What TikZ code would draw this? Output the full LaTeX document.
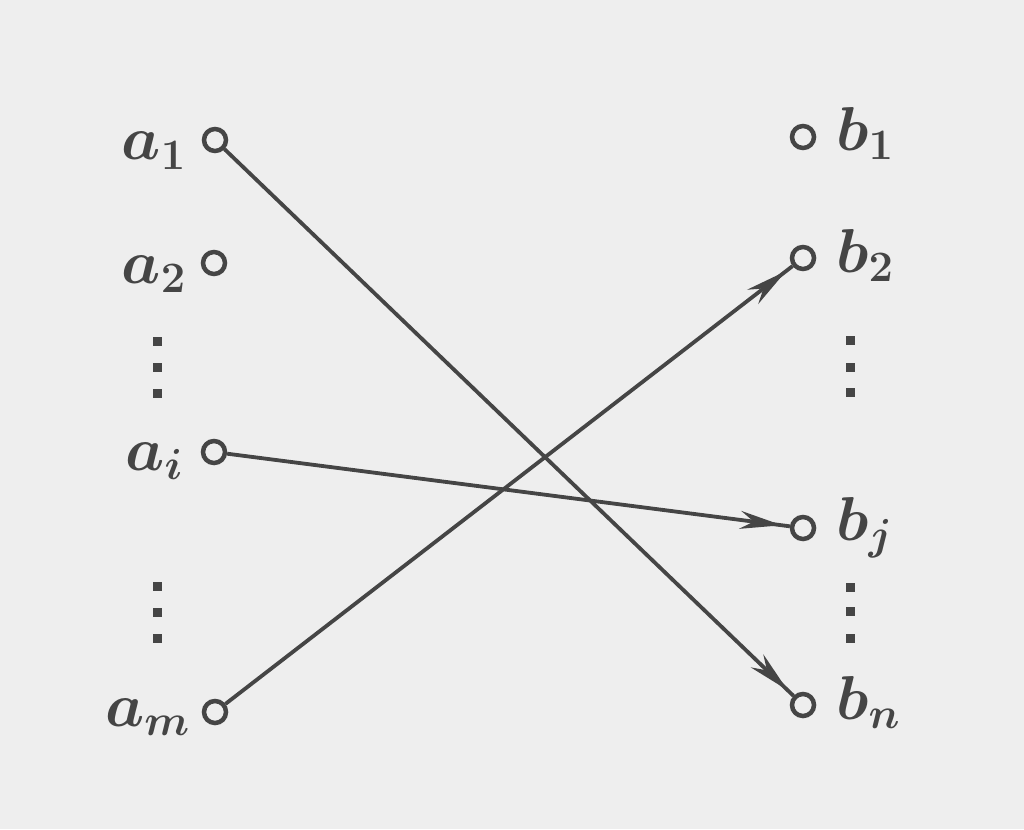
\RequirePackage{fix-cm}
\documentclass[tikz,border=0pt]{standalone}
\usetikzlibrary{arrows.meta,decorations.markings}
\definecolor{ink}{HTML}{454545}
\definecolor{bg}{HTML}{EEEEEE}
\begin{document}
\begin{tikzpicture}[x=1pt,y=-1pt,
  pt/.style={circle,draw=ink,line width=4.5pt,fill=bg,minimum size=22pt,inner sep=0pt},
  lab/.style={text=ink,inner sep=0pt,font=\fontsize{62}{66}\selectfont\boldmath},
  conn/.style={draw=ink,line width=3.8pt,postaction=decorate,
    decoration={markings,mark=at position -8pt with {\arrow{Stealth[length=42pt,width=18pt]}}}},
  vdot/.style={rectangle,fill=ink,minimum size=9pt,inner sep=0pt}]
\fill[bg] (0,0) rectangle (1024,829);
\useasboundingbox (0,0) rectangle (1024,829);
% left points
\node[pt] (a1) at (215,140) {};
\node[pt] (a2) at (214,263) {};
\node[pt] (ai) at (214,452) {};
\node[pt] (am) at (215,712) {};
% right points
\node[pt] (b1) at (803,137) {};
\node[pt] (b2) at (803,258) {};
\node[pt] (bj) at (803,528) {};
\node[pt] (bn) at (803,705) {};
% labels
\node[lab,anchor=base east] (la1) at (186,160) {$a_1$};
\node[lab,anchor=base east] (la2) at (186,283) {$a_2$};
\node[lab,anchor=base east] (lai) at (183,470) {$a_i$};
\node[lab,anchor=base east] (lam) at (190,726) {$a_m$};
\node[lab,anchor=base west] (lb1) at (836,150) {$b_1$};
\node[lab,anchor=base west] (lb2) at (836,272) {$b_2$};
\node[lab,anchor=base west] (lbj) at (836,540) {$b_j$};
\node[lab,anchor=base west] (lbn) at (836,719) {$b_n$};
% vertical dots
\foreach \y [count=\k] in {341,367,393,586,612,638} {\node[vdot] (ld\k) at (157,\y) {};}
\foreach \y [count=\k] in {340,367,392,587,611,638} {\node[vdot] (rd\k) at (850,\y) {};}
% connectors
\path[conn] (a1) -- (bn);
\path[conn] (ai) -- (bj);
\path[conn] (am) -- (b2);
\end{tikzpicture}
\end{document}
